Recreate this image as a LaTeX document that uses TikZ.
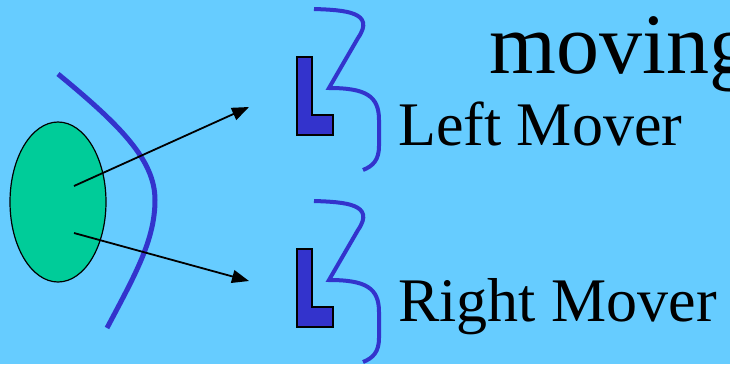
\documentclass[tikz,border=0pt]{standalone}
\usepackage{fontspec}
\setmainfont{Liberation Serif}
\usetikzlibrary{arrows.meta,shapes.geometric}
\definecolor{sky}{HTML}{66CCFF}
\definecolor{sea}{HTML}{00CC99}
\definecolor{ink}{HTML}{3333CC}
\tikzstyle{blob} = [draw, line width=1.2pt, shape=ellipse, minimum width=96pt, minimum height=160pt, inner sep=0pt, fill=sea]
\tikzstyle{lbl} = [anchor=base west, inner sep=0pt, font=\fontsize{62}{70}\selectfont]
\tikzstyle{big} = [anchor=base west, inner sep=0pt, font=\fontsize{86}{96}\selectfont]
\tikzstyle{ray} = [style={-{Triangle[length=17pt,width=13pt]},line width=1.8pt}]
\tikzstyle{wall} = [style={draw=ink,line width=5pt}]
\tikzstyle{brc} = [style={draw=ink,line width=4pt}]
\tikzstyle{ell} = [draw, line width=1.5pt, fill=ink]

\begin{document}
\begin{tikzpicture}[x=1pt,y=-1pt]
        \fill[sky] (0,0) rectangle (730,364);
        \clip (0,0) rectangle (730,364);
        \node[blob] (cell) at (58,202) {};
        \coordinate (ls) at (74,186);
        \coordinate (rs) at (74,233);
        \coordinate (le) at (249,107);
        \coordinate (re) at (249,281);
        \draw[wall] (58,74) .. controls (120,125) and (155,160) .. (155,200)
                .. controls (155,240) and (135,275) .. (107,328);
        \draw[ray] (ls) -- (le);
        \draw[ray] (rs) -- (re);
        \foreach \dy in {0,192} {
          \begin{scope}[shift={(0,\dy)}]
            \draw[ell] (297,57) -- (312,57) -- (312,115) -- (333,115) -- (333,135) -- (297,135) -- cycle;
            \draw[brc] (314,9) .. controls (345,10) and (376,12) .. (358,38) -- (329,88)
                .. controls (366,88) and (379,96) .. (379,120) -- (379,146)
                .. controls (379,160) and (373,166) .. (363,170);
          \end{scope}
        }
        \node[big] (mv) at (489,73) {moving};
        \node[lbl] (lm) at (398,145) {Left Mover};
        \node[lbl] (rm) at (398,321) {Right Mover};
      \end{tikzpicture}
\end{document}
